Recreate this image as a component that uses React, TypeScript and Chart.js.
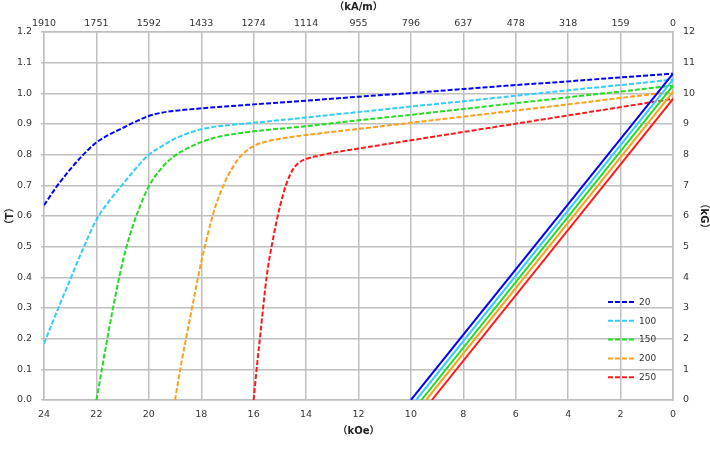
import React, { useEffect, useRef } from 'react';
import { Chart, registerables } from 'chart.js';

Chart.register(...registerables);

// ---- data ----
const seriesLabels = ['20', '100', '150', '200', '250'];
const seriesColors = ['#0000FF', '#33CCFF', '#22DD22', '#FF9F1C', '#FF1A1A'];

// demagnetization curves (H in kOe, B in T)
const h20 = [24, 23.5, 23, 22.5, 22, 21.5, 21, 20.5, 20, 19.5, 19, 18, 16, 14, 12, 10, 8, 6, 4, 2, 0];
const b20 = [0.635, 0.698, 0.752, 0.8, 0.84, 0.866, 0.887, 0.908, 0.926, 0.937, 0.943, 0.951, 0.964, 0.976, 0.989, 1.001, 1.014, 1.027, 1.039, 1.052, 1.064];

const h100 = [24, 23.5, 23, 22.5, 22, 21.5, 21, 20.5, 20, 19.5, 19, 18.5, 18, 17, 16, 14, 12, 10, 8, 6, 4, 2, 0];
const b100 = [0.184, 0.29, 0.393, 0.495, 0.588, 0.65, 0.703, 0.755, 0.8, 0.828, 0.852, 0.87, 0.883, 0.896, 0.904, 0.921, 0.939, 0.957, 0.974, 0.992, 1.01, 1.027, 1.045];

const h150 = [22, 21.75, 21.5, 21.25, 21, 20.75, 20.5, 20.25, 20, 19.5, 19, 18.5, 18, 17.5, 17, 16, 14, 12, 10, 8, 6, 4, 2, 0];
const b150 = [0, 0.12, 0.24, 0.35, 0.45, 0.53, 0.595, 0.65, 0.697, 0.758, 0.797, 0.822, 0.841, 0.855, 0.864, 0.876, 0.893, 0.912, 0.93, 0.949, 0.968, 0.987, 1.006, 1.025];

const h200 = [19, 18.75, 18.5, 18.25, 18, 17.75, 17.5, 17.25, 17, 16.75, 16.5, 16, 15.5, 15, 14, 12, 10, 8, 6, 4, 2, 0];
const b200 = [0, 0.125, 0.235, 0.345, 0.45, 0.54, 0.62, 0.68, 0.728, 0.765, 0.795, 0.828, 0.843, 0.852, 0.864, 0.884, 0.904, 0.924, 0.944, 0.964, 0.985, 1.005];

const h250 = [16, 15.9, 15.75, 15.5, 15.25, 15, 14.75, 14.5, 14.25, 14, 13.5, 13, 12, 10, 8, 6, 4, 2, 0];
const b250 = [0, 0.09, 0.21, 0.405, 0.53, 0.63, 0.705, 0.752, 0.775, 0.786, 0.797, 0.806, 0.82, 0.847, 0.874, 0.901, 0.928, 0.955, 0.982];

// straight B-H lines: coercive intercept (kOe) and remanence (T)
const lineHc = [10.0, 9.8, 9.6, 9.42, 9.2];
const lineBr = [1.064, 1.045, 1.025, 1.005, 0.982];

// top axis tick labels (kA/m) for kOe ticks 24 .. 0
const kAmLabels = ['1910', '1751', '1592', '1433', '1274', '1114', '955', '796', '637', '478', '318', '159', '0'];

const curveH = [h20, h100, h150, h200, h250];
const curveB = [b20, b100, b150, b200, b250];

const GRID = '#bfbfbf';
const TEXT = '#333333';
const FONT = "'DejaVu Sans', 'Noto Sans CJK JP', sans-serif";
const DASH = [5, 2];

const legendPlugin = {
  id: 'insideLegend',
  afterDatasetsDraw(chart: any) {
    const { ctx, chartArea } = chart;
    const x0 = chartArea.right - 65;
    const y0 = chartArea.bottom - 98;
    ctx.save();
    ctx.font = `9px ${FONT}`;
    ctx.textBaseline = 'middle';
    ctx.textAlign = 'left';
    seriesLabels.forEach((lab, i) => {
      const y = y0 + i * 18.8;
      ctx.strokeStyle = seriesColors[i];
      ctx.lineWidth = 2;
      ctx.setLineDash(DASH);
      ctx.beginPath();
      ctx.moveTo(x0, y);
      ctx.lineTo(x0 + 28, y);
      ctx.stroke();
      ctx.setLineDash([]);
      ctx.fillStyle = TEXT;
      ctx.fillText(lab, x0 + 31, y + 0.5);
    });
    ctx.restore();
  },
};

export default function App() {
  const ref = useRef<HTMLCanvasElement>(null);

  useEffect(() => {
    if (!ref.current) return;
    const dashed = curveH.map((hs, i) => ({
      label: seriesLabels[i],
      data: hs.map((h, j) => ({ x: h, y: curveB[i][j] })),
      borderColor: seriesColors[i],
      backgroundColor: seriesColors[i],
      borderWidth: 2,
      borderDash: DASH,
      pointRadius: 0,
      fill: false,
      cubicInterpolationMode: 'monotone' as const,
      xAxisID: 'x',
      yAxisID: 'y',
    }));
    const solid = lineHc.map((hc, i) => ({
      label: '',
      data: [
        { x: hc, y: 0 },
        { x: 0, y: lineBr[i] },
      ],
      borderColor: seriesColors[i],
      backgroundColor: seriesColors[i],
      borderWidth: 2,
      pointRadius: 0,
      fill: false,
      xAxisID: 'x',
      yAxisID: 'y',
    }));

    const tickFont = { family: FONT, size: 9.5 };
    const titleFont = { family: FONT, size: 10, weight: 'bold' };

    const chart = new Chart(ref.current, {
      type: 'line',
      data: { datasets: [...solid, ...dashed] as any },
      options: {
        responsive: false,
        animation: false,
        layout: { padding: 0 },
        plugins: { legend: { display: false }, tooltip: { enabled: false } },
        scales: {
          x: {
            type: 'linear',
            position: 'bottom',
            reverse: true,
            min: 0,
            max: 24,
            ticks: { stepSize: 2, color: TEXT, font: tickFont, padding: 9, maxRotation: 0 },
            grid: { color: GRID, lineWidth: 1.5, drawTicks: false },
            border: { color: GRID, width: 1.5 },
            title: {
              display: true,
              text: '（kOe）',
              color: '#222',
              font: titleFont,
              padding: { top: 0, bottom: 13 },
            },
            afterFit: (s: any) => { s.height = 50; },
          },
          xTop: {
            type: 'linear',
            position: 'top',
            reverse: true,
            min: 0,
            max: 24,
            ticks: {
              stepSize: 2,
              color: TEXT,
              font: tickFont,
              padding: 3,
              maxRotation: 0,
              callback: (v: any) => kAmLabels[Math.round((24 - Number(v)) / 2)],
            },
            grid: { display: true, drawOnChartArea: false, drawTicks: false, color: GRID },
            border: { color: GRID, width: 1.5 },
            title: {
              display: true,
              text: '（kA/m）',
              color: '#222',
              font: titleFont,
              padding: { top: 1, bottom: 0 },
            },
            afterFit: (s: any) => { s.height = 32; },
          },
          y: {
            type: 'linear',
            position: 'left',
            min: 0,
            max: 1.2,
            ticks: {
              stepSize: 0.1,
              color: TEXT,
              font: tickFont,
              padding: 9,
              callback: (v: any) => Number(v).toFixed(1),
            },
            grid: { color: GRID, lineWidth: 1.5, tickLength: 3 },
            border: { color: GRID, width: 1.5 },
            title: {
              display: true,
              text: '（T）',
              color: '#222',
              font: titleFont,
              padding: { top: 4, bottom: 0 },
            },
            afterFit: (s: any) => { s.width = 44; },
          },
          yR: {
            type: 'linear',
            position: 'right',
            min: 0,
            max: 12,
            ticks: { stepSize: 1, color: TEXT, font: tickFont, padding: 10 },
            grid: { display: true, drawOnChartArea: false, drawTicks: false, color: GRID },
            border: { color: GRID, width: 1.5 },
            title: {
              display: true,
              text: '（kG）',
              color: '#222',
              font: titleFont,
              padding: { top: 0, bottom: 0 },
            },
            afterFit: (s: any) => { s.width = 37; },
          },
        },
      } as any,
      plugins: [legendPlugin],
    });
    return () => chart.destroy();
  }, []);

  return (
    <div style={{ position: 'fixed', left: 0, top: 0, width: 710, height: 450, background: '#fff' }}>
      <canvas ref={ref} width={710} height={450} style={{ width: 710, height: 450, display: 'block' }} />
    </div>
  );
}
